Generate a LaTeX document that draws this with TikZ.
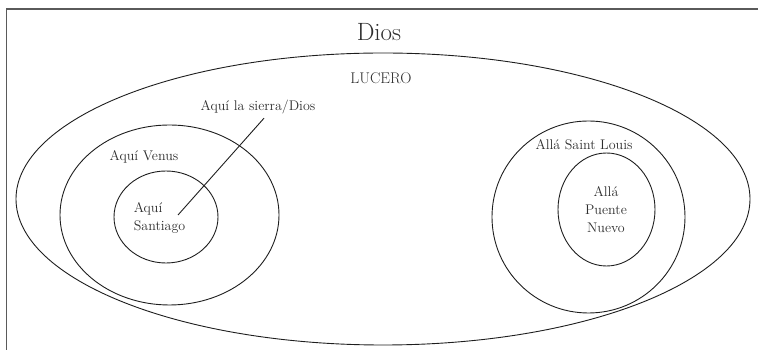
\documentclass[tikz,border=0pt]{standalone}
\usepackage{tikz}
\usetikzlibrary{positioning, shapes.geometric, calc}
\usepackage{xcolor}
\definecolor{inkline}{HTML}{1E1E1E}
\definecolor{inktext}{HTML}{2E2E2E}
\definecolor{framegray}{HTML}{5A5A5A}

\tikzset{
  ring/.style={draw=inkline, ellipse, line width=0.9pt, inner sep=0pt},
  place/.style={text=inktext, inner sep=1pt, font=\fontsize{14}{18}\selectfont}
}

\begin{document}
\begin{tikzpicture}[x=1pt, y=1pt]
    \useasboundingbox (0,0) rectangle (758,350);
    % open frame (top and left side only)
    \coordinate (fbl) at (6.5,0);
    \coordinate (ftl) at (6.5,341);
    \coordinate (ftr) at (758,341);
    \draw[framegray, line width=1.4pt] (fbl) -- (ftl) -- (ftr);

    \node[text=inktext, inner sep=1pt, font=\fontsize{25}{30}\selectfont] (dios) at (379,318) {Dios};

    % rings
    \node[ring, minimum width=734pt, minimum height=292pt] (lucero) at (383,151) {};
    \node[ring, minimum width=219pt, minimum height=180pt] (venus) at (169.5,135) {};
    \node[ring, minimum width=104pt, minimum height=92pt] (santiago) at (166,133) {};
    \node[ring, minimum width=193pt, minimum height=192pt] (louis) at (588.5,133) {};
    \node[ring, minimum width=97pt, minimum height=113pt] (puente) at (606.5,140.5) {};

    % labels
    \node[place, font=\fontsize{15.5}{18}\selectfont] (luceroname) at (381,272) {LUCERO};
    \node[place] (sierra) at (258,243) {Aquí la sierra/Dios};
    \node[place] (venusname) at (144,193) {Aquí Venus};
    \node[place, align=left] (santiagoname) at (159.5,132.5) {Aquí\\Santiago};
    \node[place] (louisname) at (584,205) {Allá Saint Louis};
    \node[place, align=center] (puentename) at (606,140) {Allá\\Puente\\Nuevo};

    \coordinate (santiagotip) at (178,135);
    \draw[inkline, line width=0.9pt] (santiagotip) -- ([xshift=6pt,yshift=-3pt]sierra.south);
\end{tikzpicture}
\end{document}
